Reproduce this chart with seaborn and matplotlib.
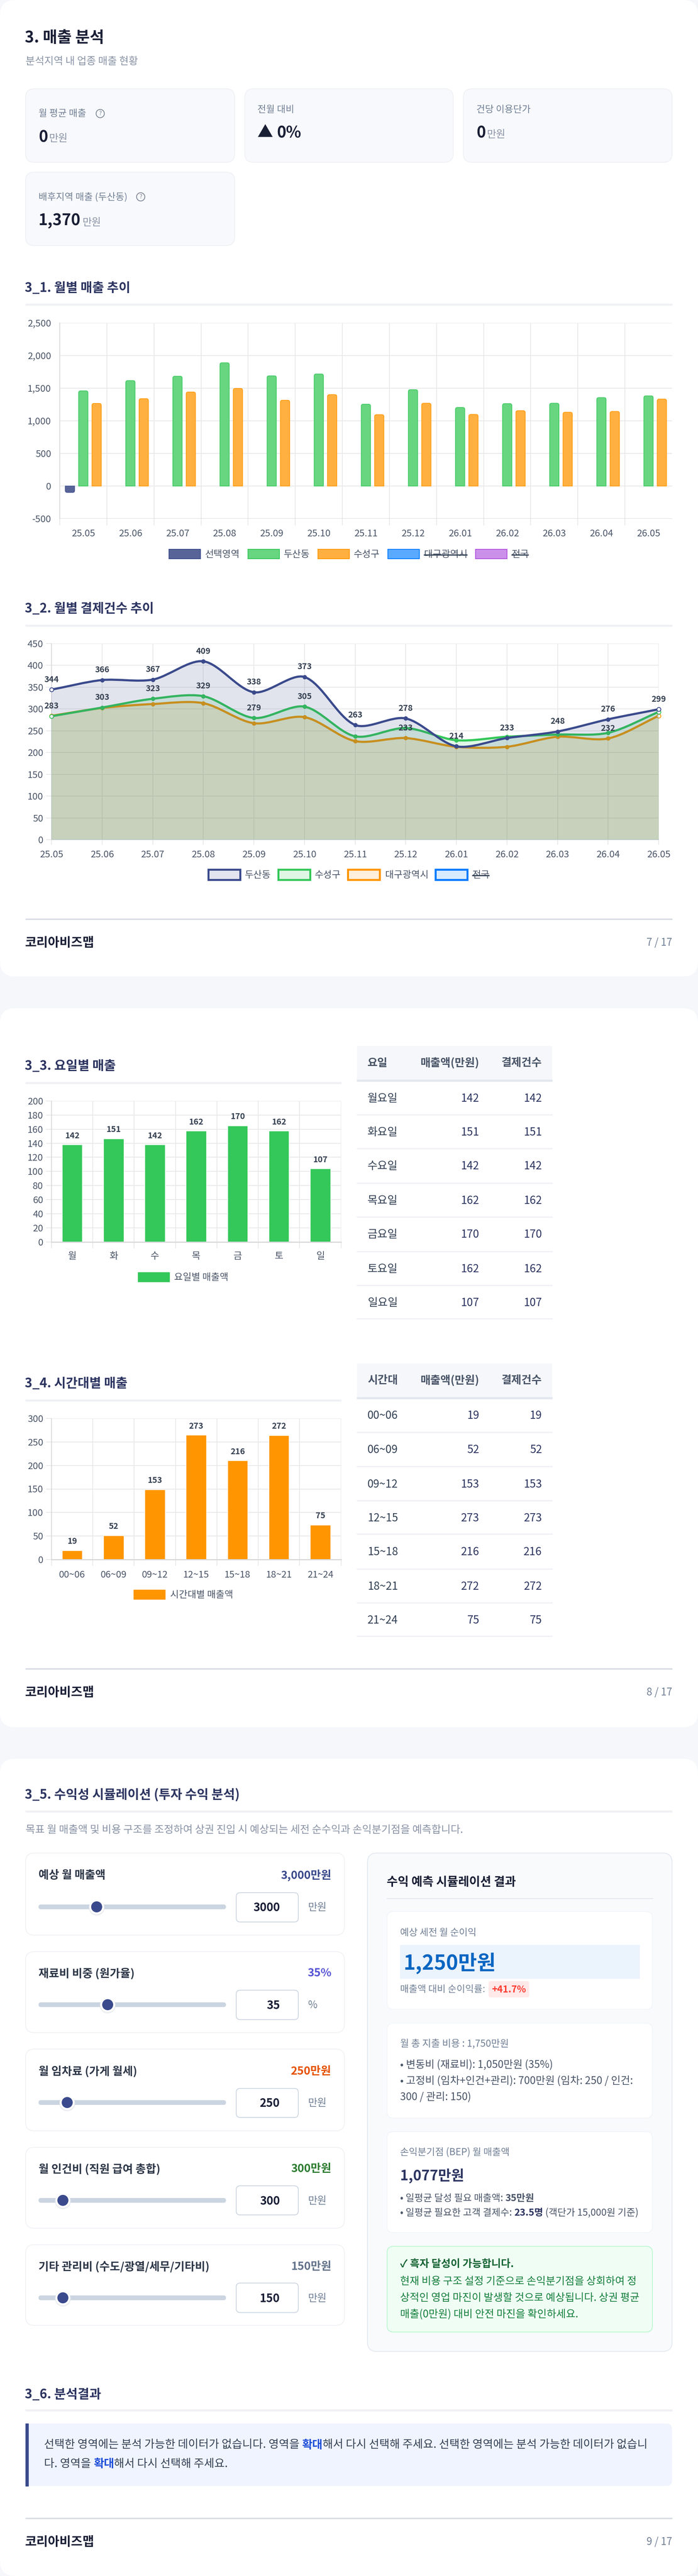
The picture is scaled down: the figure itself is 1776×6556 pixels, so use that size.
import numpy as np
import pandas as pd
import matplotlib
matplotlib.use('Agg')
import matplotlib.pyplot as plt
from matplotlib.patches import FancyBboxPatch, Rectangle, Circle, PathPatch
from matplotlib.path import Path
import seaborn as sns

# ================================================
# DATA
# ================================================

months = ['25.05', '25.06', '25.07', '25.08', '25.09', '25.10', '25.11',
          '25.12', '26.01', '26.02', '26.03', '26.04', '26.05']

# 3_1 monthly sales
sales_selected = [-98, 0, 0, 0, 0, 0, 0, 0, 0, 0, 0, 0, 0]
sales_dusan = [1460, 1617, 1684, 1890, 1690, 1718, 1255, 1478, 1205, 1264, 1270, 1356, 1383]
sales_suseong = [1267, 1340, 1442, 1497, 1316, 1402, 1095, 1270, 1098, 1156, 1132, 1144, 1334]
sales_ticks = [-500, 0, 500, 1000, 1500, 2000, 2500]

# 3_2 monthly payment counts
count_dusan = [344, 366, 367, 409, 338, 373, 263, 278, 214, 233, 248, 276, 299]
count_suseong = [283, 303, 323, 329, 279, 305, 237, 256, 228, 236, 241, 245, 293]
count_daegu = [284, 302, 311, 313, 267, 281, 226, 233, 213, 213, 236, 232, 284]
count_ticks = [0, 50, 100, 150, 200, 250, 300, 350, 400, 450]
suseong_labels = [283, 303, 323, 329, 279, 305]
daegu_label_months = [7, 11]

# 3_3 weekday sales
days = ['월', '화', '수', '목', '금', '토', '일']
day_names = ['월요일', '화요일', '수요일', '목요일', '금요일', '토요일', '일요일']
day_bars = [138, 146.6, 138, 157.6, 165, 157.6, 104]
day_sales = [142, 151, 142, 162, 170, 162, 107]
day_counts = [142, 151, 142, 162, 170, 162, 107]

# 3_4 time band sales
hours = ['00~06', '06~09', '09~12', '12~15', '15~18', '18~21', '21~24']
hour_bars = [19.4, 51, 148.9, 264.9, 210.2, 264.2, 73.9]
hour_sales = [19, 52, 153, 273, 216, 272, 75]
hour_counts = [19, 52, 153, 273, 216, 272, 75]

# 3_5 simulator
slider_labels = ['예상 월 매출액', '재료비 비중 (원가율)', '월 임차료 (가게 월세)',
                 '월 인건비 (직원 급여 총합)', '기타 관리비 (수도/광열/세무/기타비)']
slider_values = ['3,000만원', '35%', '250만원', '300만원', '150만원']
slider_inputs = ['3000', '35', '250', '300', '150']
slider_units = ['만원', '%', '만원', '만원', '만원']

# ================================================
# CANVAS AND HELPERS
# ================================================

W, H = 1776, 6556
sns.set_theme(style='white')
plt.rcParams['font.family'] = ['Noto Sans CJK KR', 'DejaVu Sans']
plt.rcParams['axes.unicode_minus'] = False

NAVY = '#3a4a8c'
GREEN = '#34c759'
ORANGE = '#ff9500'
TICK = '#4a5568'
GRID = '#e8e8ea'
AXIS = '#d9d9db'
TITLE = '#2d3561'

fig = plt.figure(figsize=(W / 100, H / 100), dpi=100, facecolor='#f5f7fb')
canvas = fig.add_axes([0, 0, 1, 1])
canvas.set_xlim(0, W)
canvas.set_ylim(H, 0)
canvas.axis('off')


def pt(size):
    return size * 0.72


def box(x0, y0, x1, y1, fill, edge='none', lw=0, r=0, z=1):
    style = f'round,pad=0,rounding_size={r}' if r else 'square,pad=0'
    p = FancyBboxPatch((x0, y0), x1 - x0, y1 - y0, boxstyle=style, facecolor=fill,
                       edgecolor=edge, linewidth=pt(lw), zorder=z)
    canvas.add_patch(p)


def txt(x, y, s, size, color='#333333', weight='normal', ha='left', z=5):
    return canvas.text(x, y, s, fontsize=pt(size), color=color, fontweight=weight,
                       ha=ha, va='center', zorder=z)


def text_width(s, size, weight):
    r = fig.canvas.get_renderer()
    a = canvas.text(0, 0, s + '.', fontsize=pt(size), fontweight=weight)
    b = canvas.text(0, 0, '.', fontsize=pt(size), fontweight=weight)
    w = a.get_window_extent(r).width - b.get_window_extent(r).width
    a.remove()
    b.remove()
    return w


def rich(x, y, parts, size):
    for s, color, weight in parts:
        txt(x, y, s, size, color, weight)
        x += text_width(s, size, weight)


def section_title(y, s, line_y, x1=1710):
    txt(63, y + 2, s, 32.5, TITLE, 'bold')
    canvas.add_patch(Rectangle((65, line_y - 2), x1 - 65, 4, color='#f0f1f5', zorder=2))


def footer(line_y, y, page):
    canvas.add_patch(Rectangle((65, line_y - 1), 1645, 2, color='#d5dbe3', zorder=2))
    txt(64, y + 2, '코리아비즈맵', 32, '#1a1f36', 'bold')
    txt(1710, y + 2, page, 26, '#718096', ha='right')


def legend_entry(x0, y0, x1, y1, fill, edge, lw, label, label_x, struck=False):
    canvas.add_patch(Rectangle((x0, y0), x1 - x0, y1 - y0, facecolor=fill, edgecolor=edge,
                               linewidth=pt(lw), zorder=3))
    t = txt(label_x, (y0 + y1) / 2 + 2, label, 24, TICK)
    if struck:
        w = text_width(label, 24, 'normal')
        canvas.plot([label_x, label_x + w - 2], [(y0 + y1) / 2 + 2] * 2, color='#334155', lw=pt(3), zorder=6)
    return t


def chart_axes(left, top, right, bottom):
    ax = fig.add_axes([left / W, 1 - bottom / H, (right - left) / W, (bottom - top) / H])
    ax.patch.set_alpha(0)
    ax.set_zorder(3)
    return ax


def style_axes(ax, y_len, y_pad, x_len, x_pad, size=24):
    # chart.js look: grid on both axes, ticks run out of the plot in grid colour
    ax.set_xlabel('')
    ax.set_ylabel('')
    ax.set_axisbelow(True)
    for name in ['top', 'right', 'bottom']:
        ax.spines[name].set_visible(False)
    ax.spines['left'].set_color(AXIS)
    ax.spines['left'].set_linewidth(pt(2))
    ax.xaxis.remove_overlapping_locs = False
    ax.grid(True, axis='y', color=GRID, linewidth=pt(2))
    ax.grid(True, axis='x', which='minor', color=GRID, linewidth=pt(2))
    ax.tick_params(axis='y', length=pt(y_len), width=pt(2), color=GRID, pad=pt(y_pad),
                   labelsize=pt(size), labelcolor=TICK, left=True)
    ax.tick_params(axis='x', which='major', length=0, pad=pt(x_pad), labelsize=pt(size),
                   labelcolor=TICK)
    ax.tick_params(axis='x', which='minor', length=pt(x_len), width=pt(2), color=GRID, bottom=True)


def round_bar(ax, bar, fill, edge, rx, ry):
    # swap seaborn's square bar for one with rounded end, same x, y and height
    h = bar.get_height()
    bar.set_visible(False)
    if h == 0 or np.isnan(h):
        return
    x0, x1 = bar.get_x(), bar.get_x() + bar.get_width()
    base = bar.get_y()
    tip = base + h
    d = ry if h > 0 else -ry
    verts = [(x0, base), (x0, tip - d), (x0, tip), (x0 + rx, tip), (x1 - rx, tip),
             (x1, tip), (x1, tip - d), (x1, base), (x0, base)]
    codes = [Path.MOVETO, Path.LINETO, Path.CURVE3, Path.CURVE3, Path.LINETO,
             Path.CURVE3, Path.CURVE3, Path.LINETO, Path.CLOSEPOLY]
    ax.add_patch(PathPatch(Path(verts, codes), facecolor=fill, edgecolor=edge,
                           linewidth=pt(1.5), zorder=3))


def spline(xs, ys, sx, sy, tension=0.3):
    # same control point rule as chart.js line tension, worked out in pixels
    p = np.column_stack([np.array(xs, float) * sx, np.array(ys, float) * sy])
    verts = [tuple(p[0])]
    codes = [Path.MOVETO]
    before, after = [], []
    for i in range(len(p)):
        prev = p[max(i - 1, 0)]
        nxt = p[min(i + 1, len(p) - 1)]
        d01 = np.hypot(*(p[i] - prev))
        d12 = np.hypot(*(nxt - p[i]))
        total = d01 + d12
        before.append(p[i] - tension * d01 / total * (nxt - prev))
        after.append(p[i] + tension * d12 / total * (nxt - prev))
    for i in range(1, len(p)):
        verts += [tuple(after[i - 1]), tuple(before[i]), tuple(p[i])]
        codes += [Path.CURVE4] * 3
    verts = np.array(verts) / [sx, sy]
    return verts, codes


# ================================================
# PAGE SHEETS
# ================================================

box(0, 0, W, 2485, 'white', r=38)
box(0, 2566, W, 4396, 'white', r=38)
box(0, 4476, W, H, 'white', r=38)

# ================================================
# HEADER AND KPI CARDS
# ================================================

txt(63, 97, '3. 매출 분석', 40, '#1a1f36', 'bold')
txt(65, 156, '분석지역 내 업종 매출 현황', 26, '#8a94a6')

for x0, x1, y0, y1 in [(65, 597, 226, 413), (623, 1153, 226, 413),
                       (1179, 1710, 226, 413), (65, 597, 438, 625)]:
    box(x0, y0, x1, y1, '#f8f9fc', '#eff0f4', 2, r=22)


def help_icon(x, y):
    canvas.add_patch(Circle((x, y), 10.5, facecolor='none', edgecolor='#7b8494', linewidth=pt(2), zorder=5))
    txt(x, y, '?', 15, '#7b8494', ha='center')


txt(98, 289, '월 평균 매출', 24, '#718096')
help_icon(255, 289)
txt(98, 350, '0', 40, '#1a1f36', 'bold')
txt(125, 353, '만원', 26, '#8a94a6')
txt(655, 279, '전월 대비', 24, '#718096')
txt(655, 337, '▲', 40, '#1a1f36', 'bold')
txt(704, 339, '0%', 40, '#1a1f36', 'bold')
txt(1212, 279, '건당 이용단가', 24, '#718096')
txt(1212, 339, '0', 40, '#1a1f36', 'bold')
txt(1239, 343, '만원', 26, '#8a94a6')
txt(98, 501, '배후지역 매출 (두산동)', 24, '#718096')
help_icon(358, 501)
txt(98, 562, '1,370', 40, '#1a1f36', 'bold')
txt(210, 566, '만원', 26, '#8a94a6')

# ================================================
# CHART 3_1 - monthly sales
# ================================================

section_title(732, '3_1. 월별 매출 추이', 775)
ax = chart_axes(152, 822, 1710, 1320)
sales_df = pd.DataFrame({
    'month': months * 3,
    'region': ['선택영역'] * 13 + ['두산동'] * 13 + ['수성구'] * 13,
    'sales': sales_selected + sales_dusan + sales_suseong,
})
sns.barplot(data=sales_df, x='month', y='sales', hue='region',
            hue_order=['선택영역', '두산동', '수성구'],
            palette=[NAVY, GREEN, ORANGE], width=0.85, gap=0.3, saturation=1,
            legend=False, ax=ax)
ax.set_ylim(-500, 2500)
ax.set_xlim(-0.5, 12.5)
ax.set_yticks(sales_ticks)
ax.set_yticklabels([f'{v:,}' for v in sales_ticks])
ax.set_xticks(np.arange(-0.5, 12.5, 1), minor=True)
style_axes(ax, 0, 22, 17, 27)
ax.axhline(-500, color=AXIS, linewidth=pt(2), zorder=1)
bar_fills = [('#586497', '#3a4a8c'), ('#68d580', '#34c759'), ('#ffb040', '#ff9500')]
for cont, (fill, edge) in zip(ax.containers, bar_fills):
    for bar in cont:
        round_bar(ax, bar, fill, edge, 5 / 120, 5 * 500 / 83)

legend_entry(430, 1398, 510, 1422, '#586497', '#3a4a8c', 2, '선택영역', 522)
legend_entry(631, 1398, 711, 1422, '#68d580', '#34c759', 2, '두산동', 722)
legend_entry(809, 1398, 889, 1422, '#ffb040', '#ff9500', 2, '수성구', 900)
legend_entry(987, 1398, 1067, 1422, '#59a9ff', '#007aff', 2, '대구광역시', 1079, struck=True)
legend_entry(1210, 1398, 1290, 1422, '#cb90e9', '#af52de', 2, '전국', 1302, struck=True)

# ================================================
# CHART 3_2 - monthly payment counts
# ================================================

section_title(1548, '3_2. 월별 결제건수 추이', 1592)
ax = chart_axes(131, 1637.5, 1676, 2137)
month_idx = list(range(13))
sx = (1676 - 131) / 12
sy = (2137 - 1637.5) / 450
ax.set_xlim(0, 12)
ax.set_ylim(0, 450)
# each later fill goes over the earlier line, that is what dulls the orange
for vals, color, z in [(count_daegu, ORANGE, 2), (count_suseong, GREEN, 4), (count_dusan, NAVY, 6)]:
    sns.lineplot(x=month_idx, y=vals, color=color, marker='o', markersize=pt(11), markeredgewidth=0,
                 linestyle='None', errorbar=None, legend=False, ax=ax, zorder=z + 0.5)
    verts, codes = spline(month_idx, vals, sx, sy)
    ax.add_patch(PathPatch(Path(verts, codes), facecolor='none', edgecolor=color,
                           linewidth=pt(5.5), zorder=z + 0.5, capstyle='round'))
    under = np.vstack([verts, [[12, 0], [0, 0], verts[0]]])
    under_codes = codes + [Path.LINETO, Path.LINETO, Path.CLOSEPOLY]
    ax.add_patch(PathPatch(Path(under, under_codes), facecolor=color, alpha=0.15,
                           edgecolor='none', zorder=z))
    ends = pd.DataFrame({'x': [month_idx[0], month_idx[-1]], 'y': [vals[0], vals[-1]]})
    sns.scatterplot(data=ends, x='x', y='y', color='white', edgecolor=color, linewidth=pt(2),
                    s=pt(10) ** 2, clip_on=False, legend=False, ax=ax, zorder=z + 0.6)
for line in ax.lines:
    line.set_clip_on(False)
ax.set_yticks(count_ticks)
ax.set_xticks(month_idx)
ax.set_xticklabels(months)
ax.set_xticks(month_idx, minor=True)
style_axes(ax, 14, 7, 13, 27)
ax.spines['bottom'].set_visible(True)
ax.spines['bottom'].set_color(AXIS)
ax.spines['bottom'].set_linewidth(pt(2))
ax.grid(True, axis='y', color=GRID, linewidth=pt(2))
labels = [(i, v) for i, v in enumerate(count_dusan)]
labels += [(i, v) for i, v in enumerate(suseong_labels)]
labels += [(i, count_daegu[i]) for i in daegu_label_months]
for i, v in labels:
    ax.annotate(str(v), (i, v), xytext=(0, pt(26)), textcoords='offset points', ha='center', va='center',
                fontsize=pt(21), fontweight='bold', color='#364152', zorder=10, annotation_clip=False)

legend_entry(530, 2213, 611, 2239, '#e2e4ef', NAVY, 5, '두산동', 623)
legend_entry(708, 2213, 789, 2239, '#dff6e5', GREEN, 5, '수성구', 801)
legend_entry(885, 2213, 966, 2239, '#ffefdc', ORANGE, 5, '대구광역시', 980)
legend_entry(1108, 2213, 1189, 2239, '#d9ebff', '#007aff', 5, '전국', 1202, struck=True)

footer(2338.5, 2398, '7 / 17')


# ================================================
# CHARTS 3_3 / 3_4 - small bars with tables
# ================================================

def small_bars(top, bottom, cats, bars, shown, color, ticks, x_pad, offset):
    ax = chart_axes(131, top, 867.5, bottom)
    sns.barplot(x=cats, y=bars, color=color, saturation=1, width=0.49, ax=ax)
    ax.set_ylim(0, ticks[-1])
    ax.set_xlim(-0.5, 6.5)
    ax.set_yticks(ticks)
    ax.set_xticks(np.arange(-0.5, 7, 1), minor=True)
    style_axes(ax, 14, 7, 16, x_pad)
    ax.axhline(0, color=AXIS, linewidth=pt(3), zorder=2, clip_on=False)
    for i, (b, s) in enumerate(zip(bars, shown)):
        ax.annotate(str(s), (i, b), xytext=(0, pt(offset)), textcoords='offset points', ha='center',
                    va='center', fontsize=pt(21), fontweight='bold', color='#364152')
    return ax


def table(header, names, sales, counts, head_y0, head_y1, head_text, row_text, row_lines):
    box(908, head_y0, 1405, head_y1, '#f5f7fb', z=2)
    canvas.add_patch(Rectangle((908, head_y1 - 1), 497, 4, color='#e3e7ee', zorder=3))
    txt(935, head_text + 2, header, 28, '#4a5568', 'bold')
    txt(1219.5, head_text + 2, '매출액(만원)', 28, '#4a5568', 'bold', ha='right')
    txt(1379, head_text + 2, '결제건수', 28, '#4a5568', 'bold', ha='right')
    for y, ly, n, s, c in zip(row_text, row_lines, names, sales, counts):
        txt(935, y + 2, n, 28, '#334155')
        txt(1219.5, y + 2, str(s), 28, TITLE, ha='right')
        txt(1379, y + 2, str(c), 28, TITLE, ha='right')
        canvas.add_patch(Rectangle((908, ly - 1.5), 497, 2, color='#f0f1f5', zorder=2))


section_title(2712, '3_3. 요일별 매출', 2755.5, x1=867.5)
small_bars(2802, 3160.6, days, day_bars, day_sales, GREEN, list(range(0, 201, 20)), 25, 23)
canvas.add_patch(Rectangle((351, 3238), 80, 24, color=GREEN, zorder=3))
txt(443, 3251, '요일별 매출액', 24, TICK)
table('요일', day_names, day_sales, day_counts, 2662, 2749, 2703.5,
      [2794, 2880, 2966, 3054, 3140, 3228, 3314],
      [2837, 2923, 3011, 3097, 3185, 3271, 3356.5])

section_title(3520, '3_4. 시간대별 매출', 3564, x1=867.5)
small_bars(3610, 3969, hours, hour_bars, hour_sales, ORANGE, list(range(0, 301, 50)), 28, 23)
canvas.add_patch(Rectangle((340, 4046), 80, 24, color=ORANGE, zorder=3))
txt(433, 4059, '시간대별 매출액', 24, TICK)
table('시간대', hours, hour_sales, hour_counts, 3470, 3556.5, 3511.5,
      [3601, 3688, 3776, 3862, 3948, 4035.5, 4122],
      [3645, 3732.5, 3819, 3904, 3993, 4079, 4164.6])

footer(4247, 4305.6, '8 / 17')

# ================================================
# 3_5 SIMULATOR
# ================================================

section_title(4566, '3_5. 수익성 시뮬레이션 (투자 수익 분석)', 4609.6)
txt(65, 4657.5, '목표 월 매출액 및 비용 구조를 조정하여 상권 진입 시 예상되는 세전 순수익과 손익분기점을 예측합니다.',
    26.5, '#8a94a6')

card_tops = [4716, 4967, 5215, 5465, 5713]
card_bottoms = [4925, 5173, 5423, 5671, 5918]
label_ys = [4772.5, 5022.5, 5271.5, 5520.5, 5769]
slider_ys = [4853, 5102, 5351, 5600, 5848]
input_tops = [4817, 5065, 5315, 5563, 5810.5]
input_bottoms = [4891.5, 5140, 5389, 5637, 5885.5]
thumb_xs = [246, 274, 171, 160, 160]
value_colors = ['#3a4a8c', '#5856d6', '#e65100', '#2e7d32', '#64748b']

for i in range(5):
    box(65, card_tops[i], 876.5, card_bottoms[i], 'white', '#f0f1f5', 2, r=22, z=2)
    txt(98, label_ys[i], slider_labels[i], 28.5, '#2d3748', 'bold')
    txt(843.5, label_ys[i], slider_values[i], 28.5, value_colors[i], 'bold', ha='right')
    box(98, slider_ys[i] - 6, 575, slider_ys[i] + 6, '#cbd5e1', r=6, z=3)
    canvas.add_patch(Circle((thumb_xs[i], slider_ys[i] + 2), 19.5, color='#e2e5ea', alpha=0.6, zorder=4))
    canvas.add_patch(Circle((thumb_xs[i], slider_ys[i]), 18, color='white', zorder=4))
    canvas.add_patch(Circle((thumb_xs[i], slider_ys[i]), 14, facecolor=NAVY, edgecolor='none', zorder=5))
    box(601, input_tops[i], 759, input_bottoms[i], 'white', '#cbd5e1', 2, r=10, z=3)
    txt(712, slider_ys[i] + 2, slider_inputs[i], 29, '#1a1f36', 'bold', ha='right')
    txt(784, slider_ys[i] + 1.5, slider_units[i], 26, '#718096')

# result panel
box(935, 4716, 1710, 5984.5, '#f8fafc', '#e2e8f0', 2, r=24, z=2)
txt(984, 4790.5, '수익 예측 시뮬레이션 결과', 30.5, '#1a1f36', 'bold')
canvas.add_patch(Rectangle((984, 4830.5), 677, 1.5, color='#e2e8f0', zorder=3))

box(985, 4865, 1660, 5114, 'white', '#f1f5f9', 2, r=16, z=3)
txt(1018, 4918.5, '예상 세전 월 순이익', 24.2, '#718096')
box(1018, 4950, 1627.5, 5036, '#ebf3fc', z=4)
txt(1027, 4996.5, '1,250만원', 52, '#0a66c2', 'bold')
txt(1018, 5064, '매출액 대비 순이익률:', 24, '#718096')
box(1243, 5042, 1346.5, 5083.5, '#ffe9e9', r=6, z=4)
txt(1251, 5064, '+41.7%', 24, '#ff3b30', 'bold')

box(985, 5149, 1660, 5390.5, 'white', '#f1f5f9', 2, r=16, z=3)
txt(1018, 5202, '월 총 지출 비용 : 1,750만원', 24.6, '#718096')
txt(1018, 5255, '• 변동비 (재료비): 1,050만원 (35%)', 26.4, '#4a5568')
txt(1018, 5296, '• 고정비 (임차+인건+관리): 700만원 (임차: 250 / 인건:', 26.5, '#4a5568')
txt(1018, 5337, '300 / 관리: 150)', 26.4, '#4a5568')

box(985, 5425, 1660, 5682, 'white', '#f1f5f9', 2, r=16, z=3)
txt(1018, 5478, '손익분기점 (BEP) 월 매출액', 24.2, '#718096')
txt(1018, 5537.5, '1,077만원', 36, TITLE, 'bold')
rich(1018, 5594.5, [('• 일평균 달성 필요 매출액: ', '#4a5568', 'normal'), ('35만원', '#4a5568', 'bold')], 24.4)
rich(1018, 5632, [('• 일평균 필요한 고객 결제수: ', '#4a5568', 'normal'), ('23.5명', TITLE, 'bold'),
                  (' (객단가 15,000원 기준)', '#4a5568', 'normal')], 24.4)

box(985, 5717, 1660, 5935, '#f0fdf4', '#bbf7d0', 2, r=16, z=3)
txt(1018, 5763, '✓ 흑자 달성이 가능합니다.', 26.5, '#166534', 'bold')
txt(1018, 5806, '현재 비용 구조 설정 기준으로 손익분기점을 상회하여 정', 26.5, '#15803d')
txt(1018, 5848, '상적인 영업 마진이 발생할 것으로 예상됩니다. 상권 평균', 26.5, '#15803d')
txt(1018, 5890, '매출(0만원) 대비 안전 마진을 확인하세요.', 26.5, '#15803d')

# ================================================
# 3_6 CONCLUSION
# ================================================

section_title(6092.5, '3_6. 분석결과', 6134)
box(65, 6168, 1710, 6327, '#f0f4ff', r=14, z=2)
canvas.add_patch(Rectangle((65, 6168), 7, 159, color=NAVY, zorder=3))
BODY = '#334155'
rich(112, 6223, [('선택한 영역에는 분석 가능한 데이터가 없습니다. 영역을 ', BODY, 'normal'),
                 ('확대', '#1d4ed8', 'bold'),
                 ('해서 다시 선택해 주세요. 선택한 영역에는 분석 가능한 데이터가 없습니', BODY, 'normal')], 28.5)
rich(112, 6271, [('다. 영역을 ', BODY, 'normal'), ('확대', '#1d4ed8', 'bold'),
                 ('해서 다시 선택해 주세요.', BODY, 'normal')], 28.5)

footer(6409, 6468, '9 / 17')

fig.savefig('out.png', dpi=100, facecolor=fig.get_facecolor())
print('Chart saved.')
